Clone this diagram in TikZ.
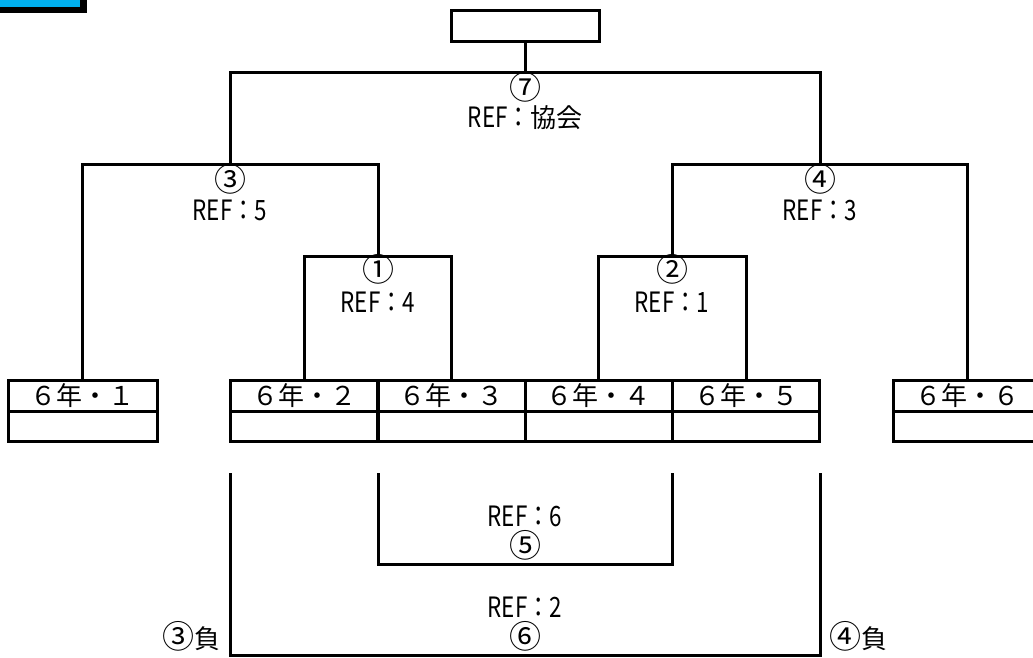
\documentclass[tikz,border=0pt]{standalone}
\usepackage{fontspec}
\setmainfont{Noto Sans CJK JP}
\newfontfamily\reffont[FakeStretch=0.8]{Noto Sans CJK JP}
\usetikzlibrary{calc, positioning}
\definecolor{hdrblue}{RGB}{0,176,240}

\begin{document}
\begin{tikzpicture}[x=1pt, y=-1pt, line width=3pt,
  team/.style={draw, minimum width=147pt, minimum height=31pt, inner sep=0pt,
    outer sep=0pt, font=\fontsize{26}{26}\selectfont},
  blank/.style={draw, minimum width=147pt, minimum height=30pt, inner sep=0pt,
    outer sep=0pt},
  num/.style={inner sep=0pt, font=\fontsize{32}{32}\selectfont},
  ref/.style={inner sep=0pt, anchor=base, font=\fontsize{28}{28}\reffont}]
\useasboundingbox (0,0) rectangle (1033,657);
\clip (0,0) rectangle (1033,657);

% header mark
\fill[black] (0,0) rectangle (87,13);
\fill[hdrblue] (0,0) rectangle (80,7);

% champion box
\node[team, minimum width=148pt] (final) at (525,25.5) {};

% teams
\node[team, minimum width=149pt] (team1) at (82.5,395.5) {６年・１};
\node[team] (team2) at (304,395.5) {６年・２};
\node[team] (team3) at (451.5,395.5) {６年・３};
\node[team] (team4) at (598.5,395.5) {６年・４};
\node[team] (team5) at (746,395.5) {６年・５};
\node[team, minimum width=148pt] (team6) at (967,395.5) {６年・６};
\node[blank, minimum width=149pt, below=0pt of team1] (blank1) {};
\node[blank, below=0pt of team2] (blank2) {};
\node[blank, below=0pt of team3] (blank3) {};
\node[blank, below=0pt of team4] (blank4) {};
\node[blank, below=0pt of team5] (blank5) {};
\node[blank, minimum width=148pt, below=0pt of team6] (blank6) {};

% bracket corners
\coordinate (m1) at (378,256);
\coordinate (m2) at (672,256);
\coordinate (m3) at (230,164);
\coordinate (m4) at (820,164);
\coordinate (m7) at (525,72);
\coordinate (m5) at (525,564);
\coordinate (m6) at (525,655);
\coordinate (s5a) at (378,473);
\coordinate (s5b) at (672,473);
\coordinate (s6a) at (230,473);
\coordinate (s6b) at (820,473);

\draw (team2.north) |- (m1) -| (team3.north);
\draw (team4.north) |- (m2) -| (team5.north);
\draw (team1.north) |- (m3) -| (m1);
\draw (team6.north) |- (m4) -| (m2);
\draw (m3) |- (m7) -| (m4);
\draw (final.south) -- (m7);
\draw (s5a) |- (m5) -| (s5b);
\draw (s6a) |- (m6) -| (s6b);

% match labels
\node[num] (n7) at (525,87) {⑦};
\node[ref] (r7) at (525,127) {REF：\normalfont\fontsize{26}{26}\selectfont 協会};
\node[num] (n3) at (230,179) {③};
\node[ref] (r3) at (230,220) {REF：5};
\node[num] (n4) at (820,179) {④};
\node[ref] (r4) at (820,220) {REF：3};
\node[num] (n1) at (378,269) {①};
\node[ref] (r1) at (378,312) {REF：4};
\node[num] (n2) at (672,269) {②};
\node[ref] (r2) at (672,312) {REF：1};
\node[ref] (r5) at (525,526) {REF：6};
\node[num] (n5) at (525,545) {⑤};
\node[ref] (r6) at (525,617) {REF：2};
\node[num] (n6) at (525,636) {⑥};
\node[num] (lose3) at (191,636) {③\fontsize{26}{26}\selectfont 負};
\node[num] (lose4) at (858,636) {④\fontsize{26}{26}\selectfont 負};
\end{tikzpicture}
\end{document}
